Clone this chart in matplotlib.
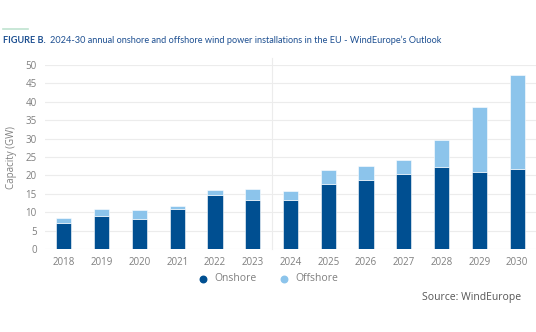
import numpy as np
import matplotlib.pyplot as plt

years = ['2018', '2019', '2020', '2021', '2022', '2023', '2024',
         '2025', '2026', '2027', '2028', '2029', '2030']
onshore = [7.2, 9.0, 8.2, 11.0, 14.7, 13.3, 13.4, 17.8, 18.7, 20.4, 22.3, 21.0, 21.8]
offshore = [1.3, 1.9, 2.5, 0.7, 1.3, 2.9, 2.4, 3.8, 3.9, 3.8, 7.3, 17.7, 25.4]

on_col = '#004f91'
off_col = '#8cc4eb'
grey = '#7f7f7f'

plt.rcParams['font.family'] = ['Open Sans', 'DejaVu Sans']

fig = plt.figure(figsize=(5.36, 3.32), dpi=100)
ax = fig.add_axes([0.084, 0.25, 0.916, 0.554])

x = np.arange(len(years))
ax.bar(x, onshore, width=0.4, color=on_col, edgecolor='white', linewidth=0.4, zorder=3)
ax.bar(x, offshore, width=0.4, bottom=onshore, color=off_col, edgecolor='white',
       linewidth=0.4, zorder=3)

ax.set_xlim(-0.5, len(years) - 0.5)
ax.set_ylim(0, 50)
ax.set_yticks(range(0, 51, 5))
ax.set_xticks(x)
ax.set_xticklabels(years)
ax.grid(axis='y', color='#ececec', linewidth=0.8, zorder=0)
ax.axvline(5.5, color='#ececec', linewidth=0.8, ymax=1.04, clip_on=False, zorder=1)
for s in ax.spines.values():
    s.set_visible(False)
ax.tick_params(length=0, colors=grey, labelsize=7)
ax.tick_params(axis='x', pad=6)
ax.tick_params(axis='y', pad=6)
ax.set_ylabel('Capacity (GW)', color=grey, fontsize=7, labelpad=6)

# legend
ax.scatter([], [], color=on_col, s=22, label='Onshore')
ax.scatter([], [], color=off_col, s=22, label='Offshore')
fig.legend(loc='center', bbox_to_anchor=(0.495, 0.16), ncol=2, frameon=False,
           fontsize=7.5, labelcolor=grey, handletextpad=0.1, columnspacing=1.6,
           markerscale=1)

# title
fig.add_artist(plt.Line2D([0.006, 0.053], [0.912, 0.912], color='#bfe3cf', linewidth=1.2))
fig.text(0.006, 0.878, 'FIGURE B.', fontsize=6.6, fontweight='bold', color='#1d4f91',
         va='center', family='Lato')
fig.text(0.093, 0.878, '2024-30 annual onshore and offshore wind power installations '
         'in the EU - WindEurope\u2019s Outlook', fontsize=6.6, color='#1d4f91',
         va='center', family='Lato')

fig.text(0.972, 0.105, 'Source: WindEurope', fontsize=7.5, color='#555555',
         ha='right', va='center')

fig.savefig('out.png', dpi=100)
